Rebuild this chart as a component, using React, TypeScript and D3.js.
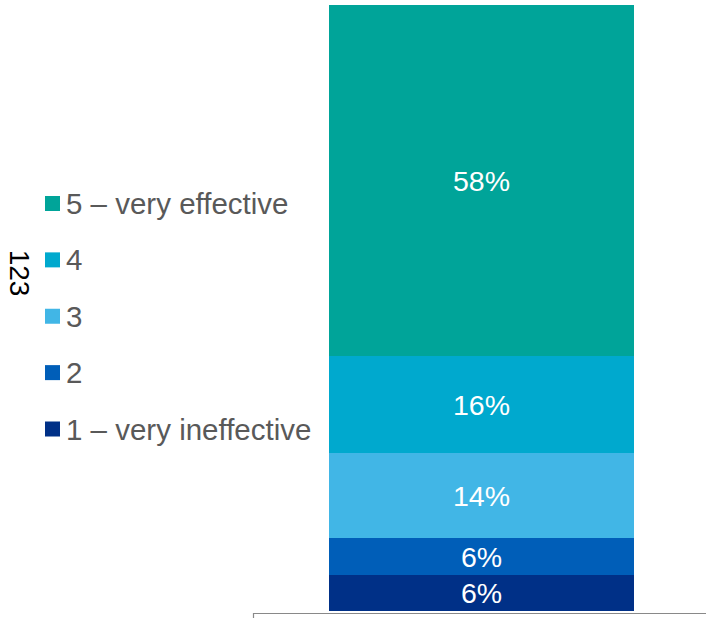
import React from "react";
import * as d3 from "d3";

const categories = ["123"];
const seriesNames = ["1 – very ineffective", "2", "3", "4", "5 – very effective"];
const seriesValues = [6, 6, 14, 16, 58];
const seriesColors = ["#003087", "#005EB8", "#41B6E6", "#00A9CE", "#00A499"];
const legendOrder = [4, 3, 2, 1, 0];

const W = 706;
const H = 618;
const FONT = "'Liberation Sans', Arial, sans-serif";

export default function App() {
  const x = d3.scaleBand<string>().domain(categories).range([253, 710]).paddingInner(0.2).paddingOuter(0.2);
  const y = d3.scaleLinear().domain([0, 100]).range([611, 5]);

  const row: Record<string, number> = {};
  seriesNames.forEach((n, i) => (row[n] = seriesValues[i]));
  const stack = d3.stack<Record<string, number>>().keys(seriesNames)([row]);

  const cat = categories[0];
  const bx = x(cat) ?? 0;
  const bw = x.bandwidth();

  const legendY = d3.scalePoint<number>().domain(legendOrder).range([203.5, 429]);

  return (
    <div style={{ position: "absolute", left: 0, top: 0 }}>
      <svg width={W} height={H} style={{ display: "block" }}>
        <rect width={W} height={H} fill="#fff" />
        {stack.map((s, i) => {
          const d = s[0];
          const y0 = y(d[1]);
          const y1 = y(d[0]);
          return (
            <g key={s.key}>
              <rect
                x={bx}
                y={y0}
                width={bw}
                height={y1 - y0}
                fill={seriesColors[i]}
                shapeRendering="crispEdges"
              />
              <text
                x={bx + bw / 2}
                y={(y0 + y1) / 2}
                dy="0.36em"
                textAnchor="middle"
                fill="#fff"
                fontFamily={FONT}
                fontSize={28.5}
              >
                {seriesValues[i]}%
              </text>
            </g>
          );
        })}
        <path d={`M253.5,619 V613.5 H710`} fill="none" stroke="#898989" strokeWidth={1.2} />
        <text
          transform={`translate(10,273) rotate(90)`}
          textAnchor="middle"
          fill="#000"
          fontFamily={FONT}
          fontSize={28}
        >
          {categories[0]}
        </text>
        {legendOrder.map((i) => {
          const cy = legendY(i) ?? 0;
          return (
            <g key={seriesNames[i]}>
              <rect x={45} y={cy - 7.5} width={15} height={15} fill={seriesColors[i]} />
              <text x={66} y={cy} dy="0.36em" fill="#595959" fontFamily={FONT} fontSize={29.5}>
                {seriesNames[i]}
              </text>
            </g>
          );
        })}
      </svg>
    </div>
  );
}
